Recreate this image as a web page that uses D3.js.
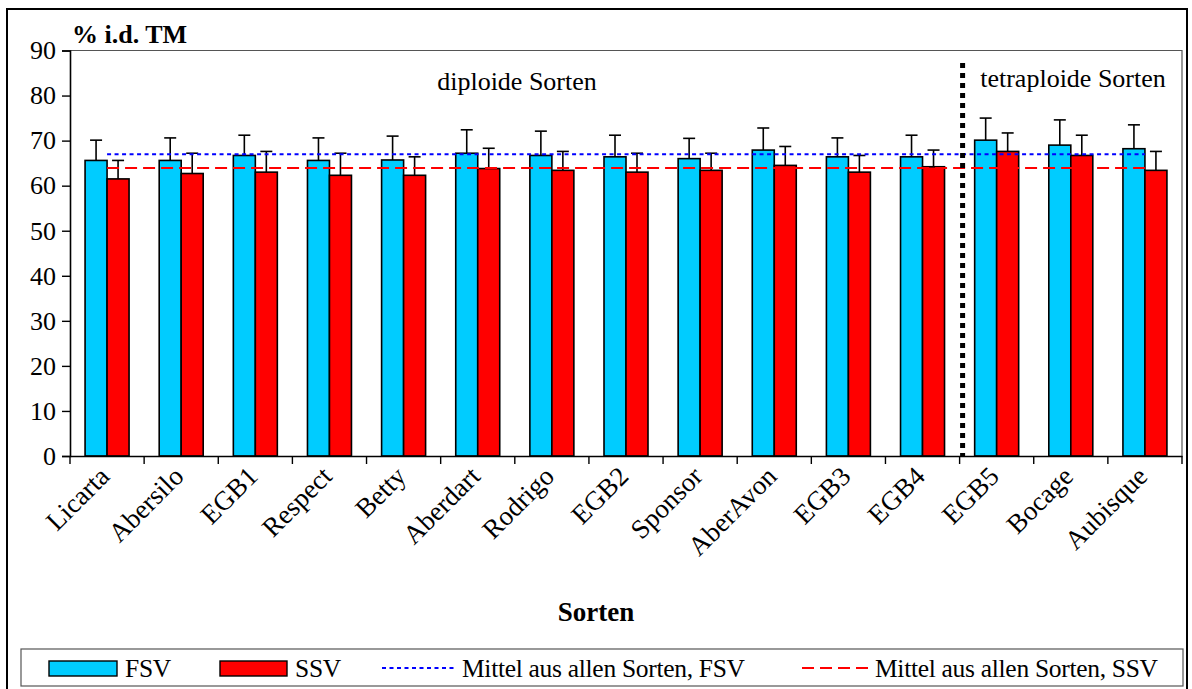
<!DOCTYPE html>
<html>
<head>
<meta charset="utf-8">
<script src="https://cdn.jsdelivr.net/npm/d3@7"></script>
<style>
  html, body { margin: 0; padding: 0; background: #fff; }
  svg { display: block; font-family: "Liberation Serif", "Times New Roman", serif; }
</style>
</head>
<body>
<svg id="chart" width="1192" height="689"></svg>
<script>
// Cultivars (Sorten)
const categories = ["Licarta","Abersilo","EGB1","Respect","Betty","Aberdart","Rodrigo","EGB2","Sponsor","AberAvon","EGB3","EGB4","EGB5","Bocage","Aubisque"];
// FSV values and their standard deviations (% i.d. TM)
const fsvValues = [65.6,65.6,66.7,65.6,65.7,67.2,66.7,66.4,66.0,67.9,66.4,66.4,70.1,69.0,68.2];
const fsvErrors = [4.5,5.0,4.5,5.0,5.3,5.2,5.4,4.8,4.5,4.9,4.2,4.8,4.9,5.6,5.3];
// SSV values and their standard deviations
const ssvValues = [61.5,62.7,63.0,62.3,62.3,63.8,63.4,63.0,63.4,64.5,63.0,64.2,67.6,66.7,63.4];
const ssvErrors = [4.1,4.5,4.6,4.9,4.1,4.5,4.2,4.2,3.8,4.2,3.7,3.7,4.1,4.5,4.2];
// Means over all cultivars
const meanFSV = 67.0;
const meanSSV = 63.9;
// First tetraploid cultivar
const firstTetraploid = "EGB5";
const yTicks = [0,10,20,30,40,50,60,70,80,90];
const seriesNames = ["FSV","SSV"];
const seriesColors = ["#00CCFF","#FF0000"];

const svg = d3.select("#chart");
const plot = { left: 70, right: 1182, top: 50.5, bottom: 456 };

// outer frame
svg.append("rect").attr("x", 7).attr("y", 9).attr("width", 1180).attr("height", 682)
  .attr("fill", "#fff").attr("stroke", "#000").attr("stroke-width", 2);

const x = d3.scaleBand().domain(categories).range([plot.left, plot.right]).padding(0);
const x1 = d3.scaleBand().domain(seriesNames).range([0, x.bandwidth()]).paddingInner(0).paddingOuter(0.685);
const y = d3.scaleLinear().domain([0, 90]).range([plot.bottom, plot.top]);

// plot area border (top and right)
svg.append("path")
  .attr("d", `M${plot.left},${plot.top}H${plot.right}V${plot.bottom}`)
  .attr("fill", "none").attr("stroke", "#555").attr("stroke-width", 1.2);

const rows = categories.map((c, i) => ({
  cat: c,
  vals: [
    { s: "FSV", v: fsvValues[i], e: fsvErrors[i], color: seriesColors[0] },
    { s: "SSV", v: ssvValues[i], e: ssvErrors[i], color: seriesColors[1] }
  ]
}));

const groups = svg.append("g").selectAll("g").data(rows).join("g")
  .attr("transform", d => `translate(${x(d.cat)},0)`);

// error bars (upper only)
groups.selectAll("g.err").data(d => d.vals).join("g").attr("class", "err").each(function(d) {
  const g = d3.select(this);
  const cx = x1(d.s) + x1.bandwidth() / 2;
  g.append("line").attr("x1", cx).attr("x2", cx).attr("y1", y(d.v)).attr("y2", y(d.v + d.e))
    .attr("stroke", "#000").attr("stroke-width", 1.6);
  g.append("line").attr("x1", cx - 6).attr("x2", cx + 6).attr("y1", y(d.v + d.e)).attr("y2", y(d.v + d.e))
    .attr("stroke", "#000").attr("stroke-width", 1.6);
});

// bars
groups.selectAll("rect").data(d => d.vals).join("rect")
  .attr("x", d => x1(d.s))
  .attr("y", d => y(d.v))
  .attr("width", x1.bandwidth())
  .attr("height", d => y(0) - y(d.v))
  .attr("fill", d => d.color)
  .attr("stroke", "#000").attr("stroke-width", 1.6);

// mean lines, from first to last category centre
const xFirst = x(categories[0]) + x.bandwidth() / 2;
const xLast = x(categories[categories.length - 1]) + x.bandwidth() / 2;
svg.append("line").attr("x1", xFirst).attr("x2", xLast).attr("y1", y(meanFSV)).attr("y2", y(meanFSV))
  .attr("stroke", "#0000FF").attr("stroke-width", 2).attr("stroke-dasharray", "4,3.5");
svg.append("line").attr("x1", xFirst).attr("x2", xLast).attr("y1", y(meanSSV)).attr("y2", y(meanSSV))
  .attr("stroke", "#FF0000").attr("stroke-width", 2).attr("stroke-dasharray", "12,6");

// separator between diploid and tetraploid cultivars
const sepX = x(firstTetraploid) + 3;
svg.append("line").attr("x1", sepX).attr("x2", sepX).attr("y1", 63).attr("y2", plot.bottom)
  .attr("stroke", "#000").attr("stroke-width", 5).attr("stroke-dasharray", "5,5");

// axes
const yAxis = d3.axisLeft(y).tickValues(yTicks).tickSize(8).tickPadding(6);
const gy = svg.append("g").attr("transform", `translate(${plot.left},0)`).call(yAxis);
gy.select(".domain").attr("stroke", "#000").attr("stroke-width", 1.6);
gy.selectAll(".tick line").attr("stroke", "#000").attr("stroke-width", 1.4);
gy.selectAll(".tick text").attr("font-size", 26).attr("font-family", "Liberation Serif").attr("fill", "#000");

const xAxis = d3.axisBottom(x).tickValues([]).tickSize(0);
const gx = svg.append("g").attr("transform", `translate(0,${plot.bottom})`).call(xAxis);
gx.select(".domain").attr("stroke", "#000").attr("stroke-width", 1.6);
// tick marks at band boundaries
const boundaries = categories.map(c => x(c)).concat([plot.right]);
gx.selectAll("line.bt").data(boundaries).join("line").attr("class", "bt")
  .attr("x1", d => d).attr("x2", d => d).attr("y1", 0).attr("y2", 8)
  .attr("stroke", "#000").attr("stroke-width", 1.4);

// rotated category labels
svg.append("g").selectAll("text").data(categories).join("text")
  .attr("transform", d => `translate(${x(d) + x.bandwidth() / 2 + 4},478) rotate(-45)`)
  .attr("text-anchor", "end")
  .attr("font-size", 27)
  .attr("fill", "#000")
  .text(d => d);

// titles and annotations
svg.append("text").attr("x", 72).attr("y", 43).attr("font-size", 26).attr("font-weight", "bold").text("% i.d. TM");
svg.append("text").attr("x", 596).attr("y", 621).attr("text-anchor", "middle").attr("font-size", 27).attr("font-weight", "bold").text("Sorten");
svg.append("text").attr("x", 517).attr("y", 90).attr("text-anchor", "middle").attr("font-size", 26).text("diploide Sorten");
svg.append("text").attr("x", 1073).attr("y", 87).attr("text-anchor", "middle").attr("font-size", 26).text("tetraploide Sorten");

// legend
const lg = svg.append("g");
lg.append("rect").attr("x", 21).attr("y", 649).attr("width", 1162).attr("height", 37)
  .attr("fill", "#fff").attr("stroke", "#555").attr("stroke-width", 1.2);
const legendItems = [
  { type: "rect", color: seriesColors[0], label: "FSV", x: 49, tx: 125 },
  { type: "rect", color: seriesColors[1], label: "SSV", x: 220, tx: 295 },
  { type: "line", color: "#0000FF", dash: "4,3.5", label: "Mittel aus allen Sorten, FSV", x: 382, tx: 462 },
  { type: "line", color: "#FF0000", dash: "12,6", label: "Mittel aus allen Sorten, SSV", x: 802, tx: 875 }
];
legendItems.forEach(it => {
  if (it.type === "rect") {
    lg.append("rect").attr("x", it.x).attr("y", 661).attr("width", it.tx - it.x - 8).attr("height", 15)
      .attr("fill", it.color).attr("stroke", "#000").attr("stroke-width", 1.4);
  } else {
    lg.append("line").attr("x1", it.x).attr("x2", it.tx - 7).attr("y1", 668).attr("y2", 668)
      .attr("stroke", it.color).attr("stroke-width", 2).attr("stroke-dasharray", it.dash);
  }
  lg.append("text").attr("x", it.tx).attr("y", 677).attr("font-size", 25.5)
    .attr("letter-spacing", -0.3).text(it.label);
});
</script>
</body>
</html>
